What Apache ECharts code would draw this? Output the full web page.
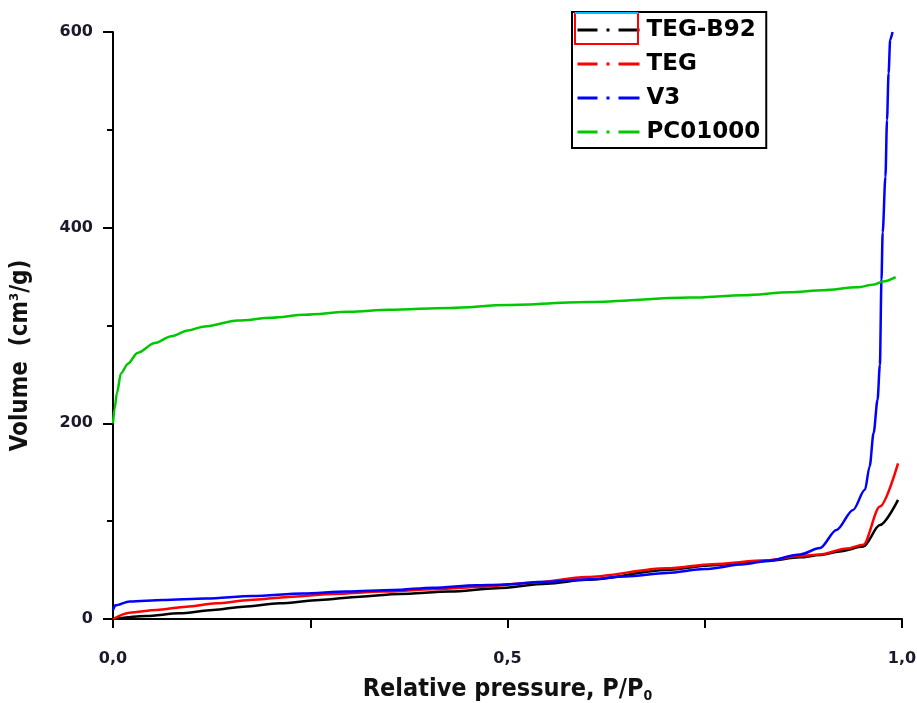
<!DOCTYPE html>
<html>
<head>
<meta charset="utf-8">
<script src="https://cdn.jsdelivr.net/npm/echarts@6/dist/echarts.min.js"></script>
<style>html,body{margin:0;padding:0;background:#fff;}#c{width:917px;height:703px;}</style>
</head>
<body>
<div id="c"></div>
<script>
const seriesNames = ['TEG-B92', 'TEG', 'V3', 'PC01000'];
const colors = ['#000000', '#ff0000', '#0000ff', '#00c800'];

const xTickLabels = {0: '0,0', 0.5: '0,5', 1: '1,0'};
const yTickLabels = [0, 200, 400, 600];

const tegB92X = [0, 0.042, 0.084, 0.127, 0.165, 0.211, 0.262, 0.313, 0.363, 0.427, 0.486, 0.55, 0.60, 0.702, 0.76, 0.828, 0.871, 0.896, 0.921, 0.951, 0.972, 0.995];
const tegB92Y = [0, 3, 5.8, 9.2, 12.6, 16, 19.4, 22.8, 25.6, 28, 31.4, 36, 40, 50, 55, 59.3, 63, 65.4, 69, 74, 96, 121.7];

const tegX = [0, 0.021, 0.055, 0.093, 0.131, 0.173, 0.228, 0.279, 0.342, 0.406, 0.469, 0.53, 0.60, 0.702, 0.76, 0.828, 0.871, 0.896, 0.93, 0.951, 0.972, 0.995];
const tegY = [0, 6.5, 9.2, 12.6, 16, 19.4, 22.8, 25.6, 28, 30.4, 33, 37, 43, 51.8, 56, 60, 64.4, 66, 72, 76, 115, 159];

const v3X = [0, 0.003, 0.021, 0.063, 0.118, 0.177, 0.241, 0.296, 0.355, 0.406, 0.461, 0.49, 0.55, 0.60, 0.65, 0.702, 0.75, 0.80, 0.828, 0.871, 0.896, 0.917, 0.938, 0.953, 0.959, 0.964, 0.969, 0.972, 0.974, 0.9755, 0.979, 0.981, 0.983, 0.985, 0.988];
const v3Y = [9, 14, 18, 19.5, 21, 23.5, 26, 28, 29.6, 32, 34.5, 35, 38, 40.5, 43.5, 47, 51, 56, 59.3, 66, 72.5, 91, 111.5, 132, 156, 190, 224, 260, 347, 395, 452, 510, 558, 592, 600];

const pcX = [0, 0.002, 0.005, 0.010, 0.019, 0.031, 0.053, 0.074, 0.095, 0.116, 0.158, 0.201, 0.243, 0.30, 0.35, 0.427, 0.50, 0.604, 0.731, 0.80, 0.858, 0.90, 0.943, 0.965, 0.976, 0.992];
const pcY = [200, 215, 231, 251, 261, 272, 282, 289, 295, 299, 305, 308, 311, 314, 316, 318, 321, 324, 328.5, 331, 334, 336, 339, 342, 345, 349.5];

const xs = [tegB92X, tegX, v3X, pcX];
const ys = [tegB92Y, tegY, v3Y, pcY];

const titleFont = "'Liberation Sans Narrow', 'DejaVu Sans Condensed', 'Arial Narrow', sans-serif";
const tickFont = "'DejaVu Sans', sans-serif";

const chart = echarts.init(document.getElementById('c'));
const legendDash = [20, 9, 3, 9, 21];

chart.setOption({
  backgroundColor: '#ffffff',
  animation: false,
  grid: {left: 113, right: 15, top: 32, bottom: 84, containLabel: false, outerBoundsMode: 'none'},
  legend: {
    left: 572, top: 12,
    orient: 'vertical',
    padding: [6, 6, 4, 4],
    borderColor: '#000', borderWidth: 2,
    itemWidth: 62, itemHeight: 24, itemGap: 10,
    itemStyle: {opacity: 0, borderWidth: 0},
    lineStyle: {type: legendDash, width: 3},
    textStyle: {fontFamily: tickFont, fontWeight: 'bold', fontSize: 23, color: '#000', lineHeight: 24, padding: [0, 0, 0, 2]},
    data: seriesNames
  },
  xAxis: {
    type: 'value', min: 0, max: 1, interval: 0.25,
    name: 'Relative pressure, P/P{sub|0}',
    nameLocation: 'middle', nameGap: 56,
    nameTextStyle: {fontFamily: titleFont, fontWeight: 'bold', fontSize: 25, color: '#111',
      rich: {sub: {fontFamily: titleFont, fontWeight: 'bold', fontSize: 14, color: '#111', verticalAlign: 'bottom', padding: [14, 0, 0, 0]}}},
    axisLine: {show: true, lineStyle: {color: '#000', width: 2}},
    axisTick: {show: true, inside: false, length: 9, lineStyle: {color: '#000', width: 2}},
    splitLine: {show: false},
    axisLabel: {margin: 32, fontFamily: tickFont, fontWeight: 'bold', fontSize: 16, color: '#1a1a2a',
      formatter: v => (xTickLabels[v] !== undefined ? xTickLabels[v] : '')}
  },
  yAxis: {
    type: 'value', min: 0, max: 600, interval: 200,
    name: 'Volume  (cm{sup|3}/g)',
    nameLocation: 'middle', nameGap: 80, nameRotate: 90,
    nameTextStyle: {fontFamily: titleFont, fontWeight: 'bold', fontSize: 24, color: '#111', padding: [0, 60, 0, 0],
      rich: {sup: {fontFamily: titleFont, fontWeight: 'bold', fontSize: 13, color: '#111', verticalAlign: 'top', padding: [0, 0, 12, 0]}}},
    axisLine: {show: true, lineStyle: {color: '#000', width: 2}},
    axisTick: {show: true, inside: false, length: 10, lineStyle: {color: '#000', width: 2}},
    minorTick: {show: true, splitNumber: 2, length: 6, lineStyle: {color: '#000', width: 2}},
    splitLine: {show: false},
    axisLabel: {margin: 20, fontFamily: tickFont, fontWeight: 'bold', fontSize: 16, color: '#1a1a2a',
      formatter: v => (yTickLabels.indexOf(v) >= 0 ? String(v) : '')}
  },
  series: seriesNames.map((n, i) => ({
    name: n, type: 'line', symbol: 'none', showSymbol: false,
    smooth: 0.3, smoothMonotone: 'x',
    lineStyle: {color: colors[i], width: 2.5},
    itemStyle: {color: colors[i]},
    data: xs[i].map((x, j) => [x, ys[i][j]])
  })),
  graphic: [
    {type: 'rect', shape: {x: 575, y: 13, width: 63, height: 31}, style: {fill: 'none', stroke: '#ff0000', lineWidth: 2}, z: 100},
    {type: 'line', shape: {x1: 575, y1: 13, x2: 638, y2: 13}, style: {stroke: '#00bfff', lineWidth: 2}, z: 101}
  ]
});
</script>
</body>
</html>
